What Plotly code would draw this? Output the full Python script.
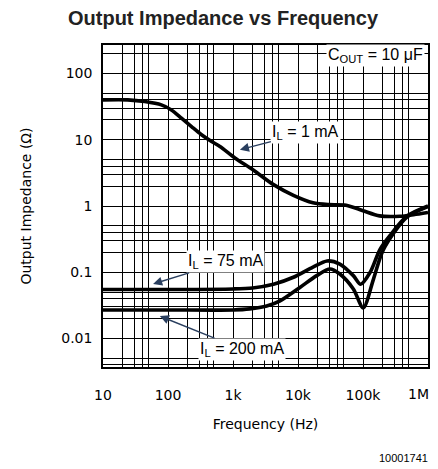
import plotly.graph_objects as go
import numpy as np

# ---- data ----
freq_1mA = [10, 24, 44, 79, 113, 161, 230, 328, 468, 630, 1070, 2050, 4200, 8500, 17000, 30000, 55000, 100000, 180000, 370000, 600000, 1000000]
z_1mA = [40, 40, 37.7, 33.6, 28.2, 21.2, 15.8, 11.9, 9.4, 7.9, 5.3, 3.5, 2.1, 1.45, 1.12, 1.05, 1.03, 0.85, 0.71, 0.70, 0.74, 0.80]

freq_75mA = [10, 100, 1000, 2000, 4200, 8500, 17000, 28000, 44000, 71000, 92000, 129000, 182000, 261000, 473000, 1000000]
z_75mA = [0.055, 0.055, 0.056, 0.058, 0.066, 0.084, 0.12, 0.148, 0.133, 0.089, 0.066, 0.10, 0.22, 0.36, 0.70, 1.0]

freq_200mA = [10, 100, 1000, 1800, 3300, 5300, 10700, 19400, 31000, 44000, 71000, 101000, 145000, 206000, 473000, 1000000]
z_200mA = [0.027, 0.027, 0.027, 0.028, 0.031, 0.037, 0.059, 0.089, 0.112, 0.094, 0.056, 0.029, 0.079, 0.22, 0.68, 0.98]

x_tick_vals = [10, 100, 1000, 10000, 100000]
x_tick_text = ["10", "100", "1k", "10k", "100k"]
x_last_tick_text = "1M"   # drawn as an annotation so it is not clipped at the page edge
y_tick_vals = [0.01, 0.1, 1, 10, 100]
y_tick_text = ["0.01", "0.1", "1", "10", "100"]
grid_mults = [1, 2, 3, 4, 5]

x_grid = [m * d for d in x_tick_vals for m in grid_mults] + [1000000]
y_grid = [m * d for d in [0.001] + y_tick_vals for m in grid_mults]

def labels(grid, vals, texts):
    out = []
    for g in grid:
        match = [t for v, t in zip(vals, texts) if abs(np.log10(g) - np.log10(v)) < 1e-6]
        out.append(match[0] if match else "")
    return out

tick_font = dict(family="DejaVu Sans", size=14, color="black")
label_font = dict(family="Liberation Sans, Arial", size=16, color="black")

fig = go.Figure()
line_style = dict(color="black", width=3.6, shape="spline", smoothing=0.8)
for f, z, name in [(freq_1mA, z_1mA, "1 mA"), (freq_75mA, z_75mA, "75 mA"), (freq_200mA, z_200mA, "200 mA")]:
    fig.add_trace(go.Scatter(x=f, y=z, mode="lines", line=line_style, name=name, showlegend=False))

fig.update_xaxes(
    type="log", range=[1, 6], automargin=False, ticklabeloverflow="allow",
    tickvals=x_grid, ticktext=labels(x_grid, x_tick_vals, x_tick_text),
    showgrid=True, gridcolor="black", gridwidth=1,
    ticks="outside", ticklen=14, tickcolor="rgba(0,0,0,0)",
    tickfont=tick_font,
    showline=True, linecolor="black", linewidth=1.5, mirror=True,
    title=dict(text="Frequency (Hz)", font=dict(family="DejaVu Sans", size=14, color="black"), standoff=18),
    zeroline=False,
)
fig.update_yaxes(
    type="log", range=[-2.43, 2.43], automargin=False, ticklabeloverflow="allow",
    tickvals=y_grid, ticktext=labels(y_grid, y_tick_vals, y_tick_text),
    showgrid=True, gridcolor="black", gridwidth=1,
    ticks="outside", ticklen=6, tickcolor="rgba(0,0,0,0)",
    tickfont=tick_font,
    showline=True, linecolor="black", linewidth=1.5, mirror=True,
    title=dict(text="Output Impedance (Ω)", font=dict(family="DejaVu Sans", size=14, color="black"), standoff=26),
    zeroline=False,
)

# last x tick label
fig.add_annotation(xref="paper", yref="paper", x=0.97, y=-0.0848, xanchor="center", yanchor="middle",
                   text=x_last_tick_text, showarrow=False, font=tick_font)

# annotations
fig.add_annotation(xref="x", yref="y", x=3.106, y=0.85, ax=66, ay=-17,
                   text="I<sub>L</sub> = 1 mA", showarrow=True, arrowhead=2, arrowsize=1.3, arrowwidth=1.4,
                   font=label_font, bgcolor="white", borderpad=1)
fig.add_annotation(xref="x", yref="y", x=1.77, y=-1.176, ax=72, ay=-22,
                   text="I<sub>L</sub> = 75 mA", showarrow=True, arrowhead=2, arrowsize=1.3, arrowwidth=1.4,
                   font=label_font, bgcolor="white", borderpad=1)
fig.add_annotation(xref="x", yref="y", x=1.874, y=-1.662, ax=82, ay=33,
                   text="I<sub>L</sub> = 200 mA", showarrow=True, arrowhead=2, arrowsize=1.3, arrowwidth=1.4,
                   font=label_font, bgcolor="white", borderpad=1)
fig.add_annotation(xref="paper", yref="paper", x=0.992, y=0.968, xanchor="right", yanchor="middle",
                   text="C<sub>OUT</sub> = 10 μF", showarrow=False, font=label_font, bgcolor="white", borderpad=1)
fig.add_annotation(xref="paper", yref="paper", x=0.3705, y=1.083, xanchor="center", yanchor="middle",
                   text="<b>Output Impedance vs Frequency</b>", showarrow=False,
                   font=dict(family="Liberation Sans, Arial", size=20, color="#222"))
fig.add_annotation(xref="paper", yref="paper", x=1.005, y=-0.2836, xanchor="right", yanchor="middle",
                   text="10001741", showarrow=False,
                   font=dict(family="Liberation Sans, Arial", size=11, color="black"))

# the page body has an 8px margin, so the figure is sized/offset to compensate
fig.update_layout(
    width=430, height=461,
    margin=dict(l=95.3, r=10.3, t=36.7, b=102.3, autoexpand=False),
    paper_bgcolor="white", plot_bgcolor="white",
)
fig.write_html("out.html")
